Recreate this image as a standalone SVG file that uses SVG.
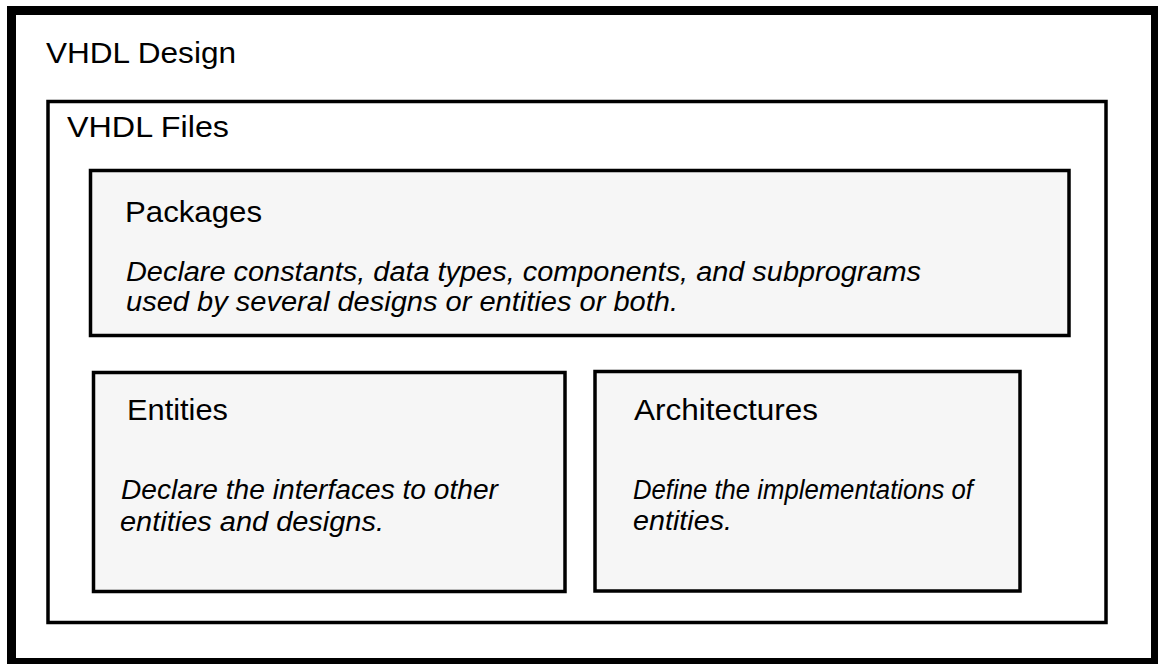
<svg xmlns="http://www.w3.org/2000/svg" width="1158" height="664" viewBox="0 0 1158 664">
<style>
.frame{fill:#ffffff;stroke:#000000}
.box{fill:#f6f6f6;stroke:#000000;stroke-width:3.5}
.h{font-family:"Liberation Sans",Arial,sans-serif;font-size:30px;fill:#000000}
.d{font-family:"Liberation Sans",Arial,sans-serif;font-size:27px;font-style:italic;fill:#000000}
</style>
<rect width="1158" height="664" fill="#ffffff"/>
<g id="vhdl-design">
<rect class="frame" x="11.5" y="10.5" width="1144" height="652" stroke-width="9"/>
<text class="h" x="46" y="63" textLength="190" lengthAdjust="spacingAndGlyphs">VHDL Design</text>
</g>
<g id="vhdl-files">
<rect class="frame" x="48" y="101.5" width="1058" height="521" stroke-width="3.5"/>
<text class="h" x="67" y="137" textLength="162" lengthAdjust="spacingAndGlyphs">VHDL Files</text>
</g>
<g id="packages">
<rect class="box" x="90.5" y="170.5" width="978.5" height="165"/>
<text class="h" x="125" y="222" textLength="137" lengthAdjust="spacingAndGlyphs">Packages</text>
<text class="d" x="126" y="281" textLength="795" lengthAdjust="spacingAndGlyphs">Declare constants, data types, components, and subprograms</text>
<text class="d" x="126" y="311" textLength="552" lengthAdjust="spacingAndGlyphs">used by several designs or entities or both.</text>
</g>
<g id="entities">
<rect class="box" x="93.5" y="372.5" width="471.5" height="219"/>
<text class="h" x="127" y="420" textLength="101" lengthAdjust="spacingAndGlyphs">Entities</text>
<text class="d" x="121" y="499" textLength="377" lengthAdjust="spacingAndGlyphs">Declare the interfaces to other</text>
<text class="d" x="120" y="531" textLength="264" lengthAdjust="spacingAndGlyphs">entities and designs.</text>
</g>
<g id="architectures">
<rect class="box" x="595" y="371.5" width="425" height="219.5"/>
<text class="h" x="634" y="420" textLength="184" lengthAdjust="spacingAndGlyphs">Architectures</text>
<text class="d" x="633" y="499" textLength="340" lengthAdjust="spacingAndGlyphs">Define the implementations of</text>
<text class="d" x="633" y="530" textLength="99" lengthAdjust="spacingAndGlyphs">entities.</text>
</g>
<g id="connectors"/>
</svg>
